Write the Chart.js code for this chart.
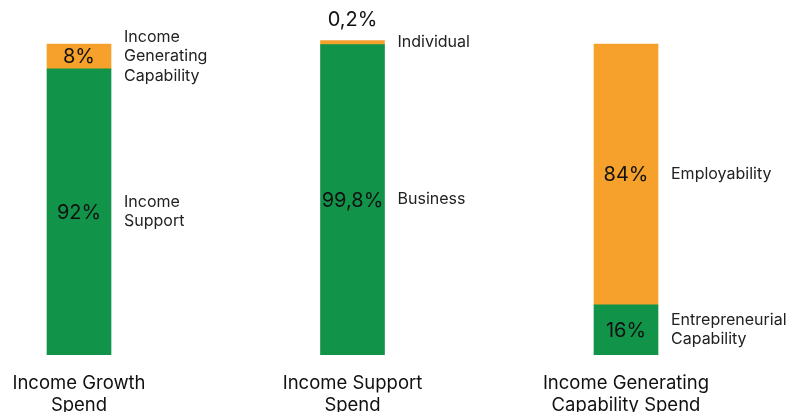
<!DOCTYPE html>
<html lang="en">
<head>
    <meta charset="UTF-8">
    <title>Spend split</title>
    <style>
        body {
            margin: 0;
            padding: 0;
            background: #ffffff;
            overflow: hidden;
        }
        .chart-box {
            position: relative;
            width: 795px;
            height: 427px;
        }
    </style>
    <script src="https://cdn.jsdelivr.net/npm/chart.js"></script>
</head>
<body>
    <div class="chart-box">
        <canvas id="spendChart"></canvas>
    </div>

    <script>
        // categories and shares (%)
        const categories = [
            ['Income Growth', 'Spend'],
            ['Income Support', 'Spend'],
            ['Income Generating', 'Capability Spend']
        ];
        const greenValues = [92, 99.8, 16];
        const orangeValues = [8, 0.2, 84];

        // names written beside each segment
        const greenNames = [['Income', 'Support'], ['Business'], ['Entrepreneurial', 'Capability']];
        const orangeNames = [['Income', 'Generating', 'Capability'], ['Individual'], ['Employability']];

        const GREEN = '#11934a';
        const ORANGE = '#f5a12c';
        const FONT = "Inter, 'Noto Sans', sans-serif";

        function pct(v) {
            return String(v).replace('.', ',') + '%';
        }

        // value inside each segment + name to the right of it
        const segmentLabels = {
            id: 'segmentLabels',
            afterDatasetsDraw(chart) {
                const ctx = chart.ctx;
                ctx.save();
                chart.data.datasets.forEach((ds, di) => {
                    const meta = chart.getDatasetMeta(di);
                    meta.data.forEach((bar, i) => {
                        const top = Math.min(bar.y, bar.base);
                        const bottom = Math.max(bar.y, bar.base);
                        const h = bottom - top;
                        const cy = (top + bottom) / 2;

                        ctx.fillStyle = '#111';
                        ctx.font = '20px ' + FONT;
                        ctx.textAlign = 'center';
                        ctx.textBaseline = 'middle';
                        const txt = pct(ds.data[i]);
                        if (h < 12) {
                            // too thin to hold the number, put it above
                            ctx.fillText(txt, bar.x, top - 21);
                        } else {
                            ctx.fillText(txt, bar.x, cy + 1);
                        }

                        const names = ds.names[i];
                        const lh = 19.5;
                        ctx.font = '16px ' + FONT;
                        ctx.textAlign = 'left';
                        ctx.fillStyle = '#222';
                        const x = bar.x + bar.width / 2 + 13;
                        const y0 = cy - (names.length - 1) * lh / 2;
                        names.forEach((n, k) => ctx.fillText(n, x, y0 + k * lh));
                    });
                });
                ctx.restore();
            }
        };

        new Chart(document.getElementById('spendChart'), {
            type: 'bar',
            data: {
                labels: categories,
                datasets: [
                    {
                        label: 'green',
                        data: greenValues,
                        names: greenNames,
                        backgroundColor: GREEN,
                        barThickness: 64
                    },
                    {
                        label: 'orange',
                        data: orangeValues,
                        names: orangeNames,
                        backgroundColor: ORANGE,
                        barThickness: 64,
                        minBarLength: 4
                    }
                ]
            },
            options: {
                responsive: true,
                maintainAspectRatio: false,
                animation: false,
                clip: false,
                layout: {
                    padding: { left: 79, right: 169, top: 44, bottom: 0 }
                },
                plugins: {
                    legend: { display: false },
                    tooltip: { enabled: false }
                },
                scales: {
                    x: {
                        stacked: true,
                        offset: false,
                        grid: { display: false },
                        border: { display: false },
                        ticks: {
                            color: '#111',
                            padding: 10,
                            maxRotation: 0,
                            autoSkip: false,
                            font: { family: FONT, size: 18.5, lineHeight: 1.2 }
                        }
                    },
                    y: {
                        stacked: true,
                        display: false,
                        min: 0,
                        max: 100
                    }
                }
            },
            plugins: [segmentLabels]
        });
    </script>
</body>
</html>
